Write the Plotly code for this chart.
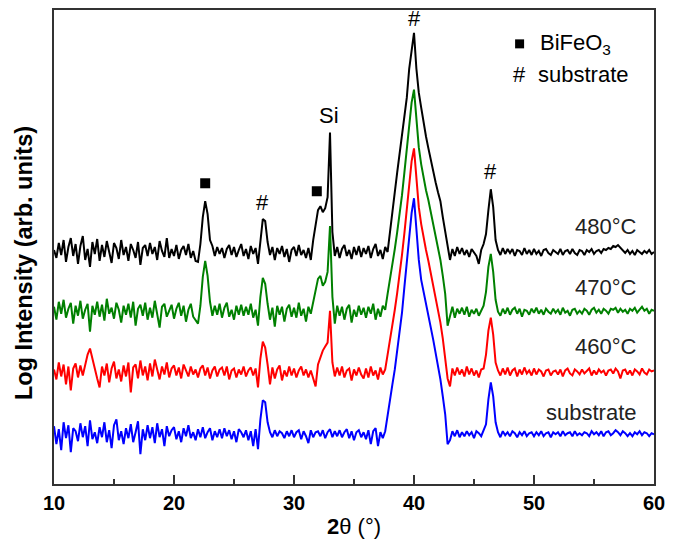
import plotly.graph_objects as go

# ---- scan grid (2theta, degrees): 10 -> 60 at 0.2 deg step ----
SCAN_START = 10.0
SCAN_STEP = 0.2
N_POINTS = 251
two_theta = [round(SCAN_START + SCAN_STEP * i, 1) for i in range(N_POINTS)]

# ---- intensities, relative to each curve's own baseline (arb. units) ----
i_480 = [
    2, -6, 9, -3, 12, -10, 5, 14, -4, 8,
    -12, 6, 16, -8, 3, -15, 10, -2, 13, -9,
    7, -5, 11, 0, -11, 9, 4, -7, 12, -3,
    5, -9, 8, 2, -6, 10, -13, 4, 7, -4,
    9, -2, 5, -8, 11, 1, -5, 14, -6, 3,
    -4, 7, -7, 2, 6, -3, 8, -6, 1, -9,
    -10, 8, 35, 51, 38, 12, 6, -4, 5, -2,
    4, -6, 3, 7, -3, 5, -5, 2, 8, -4,
    3, -7, 6, -2, 4, -12, 14, 33, 31, 10,
    -3, 5, -8, 4, -2, 6, -5, 3, -10, 2,
    5, -4, 7, -3, 2, -6, 4, -8, 12, 28,
    42, 46, 40, 44, 55, 120, 20, -4, 5, -6,
    3, 7, -4, 2, -7, 5, -3, 6, -5, 4,
    -2, 6, -6, 3, 8, -4, 2, -7, 5, 0,
    22, 40, 60, 80, 100, 118, 136, 155, 184, 205,
    220, 184, 160, 145, 128, 116, 104, 92, 80, 70,
    60, 51, 35, 22, 5, -8, 3, -4, 5, -2,
    4, -3, 2, -5, 3, 0, -4, -12, 2, 8,
    18, 42, 63, 45, 12, 2, -3, 4, -2, 3,
    -1, 3, -4, 2, 1, -3, 4, -2, 2, -3,
    3, -2, 1, -4, 2, 3, -1, -3, 2, 0,
    -2, 3, -3, 1, 2, -2, 3, -1, -3, 2,
    1, -3, 2, 0, 3, -2, 1, 2, -1, 3,
    2, 4, 3, 6, 5, 7, 4, 2, -1, 2,
    -2, 1, -3, 2, 0, -2, 1, -1, 2, -2,
    0,
]
i_470 = [
    5, -8, 10, -2, 12, -6, 3, 9, -12, 6,
    -4, 11, -7, 2, 8, -20, 6, -3, 10, -5,
    7, -9, 13, -2, 4, -7, 9, 2, -11, 6,
    -3, 8, -6, 10, -14, 3, 7, -4, 9, -8,
    4, -6, 11, -2, -16, 5, 8, -5, 2, 7,
    -7, 3, 9, -4, 6, -10, 2, 8, -5, -8,
    -12, 6, 35, 51, 36, 10, -4, 6, -3, 8,
    -6, 4, 9, -5, 2, -8, 6, -3, 7, -4,
    5, -3, 8, -6, 2, -14, 15, 34, 28, 8,
    -8, 4, -15, 6, -3, 5, -10, 3, 7, -5,
    4, -6, 9, -4, 3, -10, 5, -2, 10, 22,
    33, 36, 26, 30, 40, 86, 15, -12, 6, -4,
    5, -8, 3, 7, -11, 2, -5, 6, -3, 4,
    -6, 5, -2, 8, -8, 3, -5, 6, 2, 18,
    32, 48, 63, 80, 97, 117, 140, 163, 190, 210,
    223, 190, 165, 148, 134, 122, 112, 100, 89, 77,
    66, 52, 36, 18, -14, -4, 5, -6, 3, -2,
    4, -3, 5, -5, 2, -2, 3, -4, 1, 6,
    20, 45, 58, 40, 12, 0, -4, 3, -2, 4,
    -3, 2, 4, -2, 3, -5, 2, 1, -3, 3,
    -1, 4, -2, 2, -3, 3, 0, -2, 3, -1,
    2, -3, 4, -1, 1, -4, 2, 3, -2, 1,
    -2, 3, 1, -3, 2, 4, -1, 2, -2, 3,
    1, -2, 3, 2, 4, -1, 3, 0, 2, -2,
    3, 1, 4, -1, 2, 5, 1, 3, -2, 2,
    1,
]
i_460 = [
    3, -7, 10, -4, 8, -12, 6, -18, 4, 9,
    -5, 7, -3, 8, 18, 24, 15, 4, -6, -15,
    6, -3, 9, -10, 4, 11, -6, 3, -9, 7,
    -4, 10, -20, 5, 8, -6, 12, -3, 6, -8,
    9, -4, 13, 2, -7, 6, -2, 10, -5, 4,
    7, -3, 5, -6, 8, 2, -4, 6, -2, 3,
    -5, 4, 7, -3, 5, -6, 2, 6, -4, 3,
    5, -3, 6, -7, 2, 4, -5, 3, -2, 6,
    -4, 2, 5, -3, 4, -15, 14, 31, 25, 8,
    -12, 5, -6, 3, 7, -8, 2, -4, 6, -3,
    4, -5, 2, 6, -3, 3, -5, 2, -5, -14,
    8, 16, 22, 26, 30, 62, 10, -4, 5, -3,
    6, -5, 2, 4, -8, 3, -3, 5, -2, -6,
    4, -5, 6, -3, 2, -7, 5, -2, 3, 18,
    32, 48, 63, 80, 98, 118, 140, 165, 192, 212,
    225, 192, 166, 149, 135, 123, 112, 100, 88, 76,
    65, 50, 34, 16, -6, -14, 4, -3, 5, -2,
    3, -4, 6, -2, 4, -3, 2, -5, 3, 4,
    18, 42, 55, 38, 10, 2, -3, 4, -2, 5,
    -3, 2, 4, -4, 3, -2, 5, -1, 2, -3,
    4, -2, 3, 1, -4, 2, 3, -3, 1, 2,
    -2, 3, -4, 2, 4, -1, -3, 3, 1, -2,
    3, -1, 2, 4, -3, 2, -2, 3, 0, 2,
    -3, 2, 3, -1, 4, 1, -6, 2, 3, -2,
    2, -3, 3, 1, -2, 4, 0, -2, 3, 1,
    2,
]
i_substrate = [
    8, -10, 5, -16, 12, -4, 9, -18, 6, 3,
    -7, 11, -3, 8, -12, 14, -5, 2, -9, 7,
    -3, 12, -8, 4, -14, 9, 15, -6, 3, -10,
    6, -4, 10, -8, 2, 13, -20, 5, -6, 9,
    -4, 7, -9, 11, -3, 5, -12, 8, -2, 4,
    7, -5, 3, -8, 6, -2, 9, -4, 2, -6,
    5, -3, 7, -4, 2, 6, -6, 3, -3, 5,
    -4, 6, -2, 4, -5, 3, -8, 5, 2, -3,
    4, -6, 3, -12, 5, -15, 15, 34, 32, 12,
    2, -3, 4, -2, 3, 1, -4, 3, -2, 4,
    -3, 2, 4, -5, 3, -2, -9, 4, -3, 2,
    3, -2, 4, -4, 2, 5, -3, 3, -2, 4,
    -3, 2, 5, -4, 3, -6, 2, 4, -3, 2,
    -5, 4, -10, 3, 6, -12, 2, -4, 3, 20,
    34, 50, 65, 84, 101, 122, 148, 172, 201, 222,
    237, 201, 175, 155, 142, 130, 120, 107, 95, 82,
    70, 55, 38, 20, -10, -6, 3, -2, 4, -3,
    2, -2, 3, -1, 2, -4, 3, 1, -2, 4,
    10, 35, 52, 38, 12, 2, -3, 3, -1, 2,
    -2, 3, 1, -3, 2, -1, 3, -2, 1, 2,
    -2, 2, -1, 3, -2, 1, 2, -3, 2, 0,
    2, -2, 3, -1, 1, 2, -2, 3, -1, 1,
    -1, 2, 1, -2, 3, 0, 2, -1, 3, -2,
    2, 3, -1, 1, 4, 2, -1, 3, 1, -2,
    1, -2, 2, 0, 3, -1, 2, 1, -2, 1,
    0,
]

series_names = ["substrate", "460°C", "470°C", "480°C"]
series_values = [i_substrate, i_460, i_470, i_480]
stack_offsets = [50, 112, 173, 233]          # vertical stacking of the curves
series_colors = ["#0000ff", "#ff0000", "#008000", "#000000"]

# reflection marks (2theta, height)
bfo_mark_x = [22.6, 31.9]
bfo_mark_y = [302, 294]
sub_mark_x = [27.4, 40.0, 46.4]
sub_mark_y = [283, 467, 314]
si_mark = (32.9, 370)

label_x = 58.75
label_y = [72, 138, 197, 259]

FONT = "Arial, Liberation Sans, sans-serif"

fig = go.Figure()
for name, vals, off, col in zip(series_names, series_values, stack_offsets, series_colors):
    assert len(vals) == N_POINTS
    fig.add_trace(go.Scatter(
        x=two_theta, y=[v + off for v in vals], mode="lines", name=name,
        line=dict(color=col, width=2), showlegend=False, hoverinfo="skip"))

# BiFeO3 square markers
fig.add_trace(go.Scatter(x=bfo_mark_x, y=bfo_mark_y, mode="markers", name="BiFeO3",
                         marker=dict(symbol="square", size=10, color="black"),
                         showlegend=False, hoverinfo="skip"))
# key square
fig.add_trace(go.Scatter(x=[48.8], y=[442], mode="markers", name="key",
                         marker=dict(symbol="square", size=9, color="black"),
                         showlegend=False, hoverinfo="skip"))

ann = []
for x, y in zip(sub_mark_x, sub_mark_y):
    ann.append(dict(x=x, y=y, text="#", showarrow=False, font=dict(size=22, color="black", family=FONT)))
ann.append(dict(x=si_mark[0], y=si_mark[1], text="Si", showarrow=False,
                font=dict(size=22, color="black", family=FONT)))
for nm, y in zip(series_names, label_y):
    ann.append(dict(x=label_x, y=y, text=nm, xanchor="right", showarrow=False,
                    font=dict(size=22, color="#222", family=FONT)))
# key
ann.append(dict(x=50.3, y=442, text="BiFeO<sub>3</sub>", xanchor="left", showarrow=False,
                font=dict(size=22, color="black", family=FONT)))
ann.append(dict(x=48.75, y=411, text="#", showarrow=False,
                font=dict(size=22, color="black", family=FONT)))
ann.append(dict(x=50.2, y=411, text="substrate", xanchor="left", showarrow=False,
                font=dict(size=22, color="black", family=FONT)))
# y title
ann.append(dict(xref="paper", yref="paper", x=-0.050, y=0.466, text="<b>Log Intensity (arb. units)</b>",
                textangle=-90, showarrow=False, xanchor="center", yanchor="middle",
                font=dict(size=23.5, color="black", family=FONT)))

fig.update_layout(
    width=673, height=543,
    margin=dict(l=54, r=14, t=8, b=59),
    paper_bgcolor="white", plot_bgcolor="white",
    annotations=ann,
    font=dict(family=FONT, color="black"),
)
fig.update_xaxes(
    range=[10, 60], tickvals=[10, 20, 30, 40, 50, 60],
    ticks="inside", ticklen=9, tickwidth=1.5, tickcolor="#333",
    minor=dict(tickvals=[15, 25, 35, 45, 55], ticks="inside", ticklen=5, tickwidth=1.5, tickcolor="#333"),
    showline=True, linecolor="#333", linewidth=1.5, mirror=True,
    showgrid=False, zeroline=False,
    tickfont=dict(size=20, weight="bold", family=FONT, color="black"),
    title=dict(text="<b>2</b>θ (°)", font=dict(size=22, family=FONT, color="black"), standoff=6),
)
fig.update_yaxes(
    range=[0, 476], showticklabels=False, ticks="",
    showline=True, linecolor="#333", linewidth=1.5, mirror=True,
    showgrid=False, zeroline=False,
)

fig.write_html("out.html")
